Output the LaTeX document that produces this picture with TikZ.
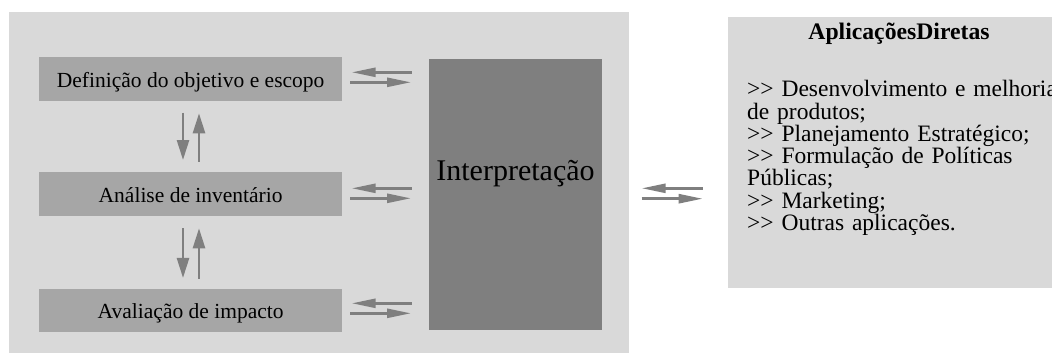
\documentclass[tikz,border=0pt]{standalone}
\usepackage{fontspec}
\setmainfont{Liberation Serif}
\usetikzlibrary{arrows.meta}
\definecolor{bgc}{HTML}{D9D9D9}
\definecolor{boxc}{HTML}{A6A6A6}
\definecolor{intc}{HTML}{7F7F7F}
\definecolor{arrc}{HTML}{7F7F7F}
\newcommand\gtgt{>\kern0pt>}
\begin{document}
\begin{tikzpicture}[x=1pt,y=-1pt,
  panel/.style={fill=bgc, draw=none, inner sep=0pt, outer sep=0pt},
  stage/.style={fill=boxc, draw=none, inner sep=0pt, outer sep=0pt,
    minimum width=302.7pt, minimum height=43.7pt,
    text height=16pt, text depth=0pt,
    font=\fontsize{21.5}{24}\selectfont},
  interbox/.style={fill=intc, draw=none, inner sep=0pt, outer sep=0pt},
  harrow/.style={draw=arrc, line width=2.6pt, -{Triangle[length=24pt,width=9pt]}},
  varrow/.style={draw=arrc, line width=2.6pt, -{Triangle[length=20pt,width=12pt]}}]
\useasboundingbox (0,0) rectangle (1052,354);
\clip (0,0) rectangle (1052,354);
\fill[white] (0,0) rectangle (1052,354);
% panels
\node[panel, minimum width=620pt, minimum height=341pt] (lca) at (319,182.5) {};
\node[panel, minimum width=342pt, minimum height=271pt] (apps) at (899,152.5) {};
% stages
\node[stage] (def) at (190.65,79.15) {Definição do objetivo e escopo};
\node[stage] (ana) at (190.65,194.15) {Análise de inventário};
\node[stage] (ava) at (190.65,310.5) {Avaliação de impacto};
\node[interbox, minimum width=172.4pt, minimum height=271.3pt] (interp) at (515.5,194.35) {};
\node[anchor=base, inner sep=0pt, font=\fontsize{30}{34}\selectfont] (itxt) at (515.5,180) {Interpretação};
% applications text
\node[anchor=base, inner sep=0pt, font=\fontsize{23.7}{26}\selectfont\bfseries] (atitle) at (899,39.3) {AplicaçõesDiretas};
\node[anchor=base west, inner sep=0pt, text width=400pt, align=left,
  font=\fontsize{23.5}{22.3}\selectfont] (alist) at (747,96.7)
  {\gtgt{} Desenvolvimento e melhoria\\
   de produtos;\\
   \gtgt{} Planejamento Estratégico;\\
   \gtgt{} Formulação de Políticas\\
   Públicas;\\
   \gtgt{} Marketing;\\
   \gtgt{} Outras aplicações.};
% helper coordinates
\path (def.east -| interp.west) coordinate (di);
\path (ana.east -| interp.west) coordinate (ai);
\path (ava.east -| interp.west) coordinate (vi);
\path (lca.east -| apps.west) coordinate (ra);
% horizontal pairs
\draw[harrow, shorten <=17.6pt, shorten >=9.7pt] ([yshift=6.85pt]di) -- ([yshift=6.85pt]def.east);
\draw[harrow, shorten <=8pt, shorten >=18.3pt] ([yshift=-3.15pt]def.east) -- ([yshift=-3.15pt]di);
\draw[harrow, shorten <=17.6pt, shorten >=9.7pt] ([yshift=5.85pt]ai) -- ([yshift=5.85pt]ana.east);
\draw[harrow, shorten <=8pt, shorten >=18.3pt] ([yshift=-4.15pt]ana.east) -- ([yshift=-4.15pt]ai);
\draw[harrow, shorten <=17.6pt, shorten >=9.7pt] ([yshift=7.2pt]vi) -- ([yshift=7.2pt]ava.east);
\draw[harrow, shorten <=8pt, shorten >=18.3pt] ([yshift=-2.8pt]ava.east) -- ([yshift=-2.8pt]vi);
% vertical pairs
\draw[varrow, shorten <=11.7pt, shorten >=12.3pt] ([xshift=-7.65pt]def.south) -- ([xshift=-7.65pt]ana.north);
\draw[varrow, shorten <=10.6pt, shorten >=12.3pt] ([xshift=8.35pt]ana.north) -- ([xshift=8.35pt]def.south);
\draw[varrow, shorten <=12pt, shorten >=10.7pt] ([xshift=-7.65pt]ana.south) -- ([xshift=-7.65pt]ava.north);
\draw[varrow, shorten <=9.7pt, shorten >=12.3pt] ([xshift=8.35pt]ava.north) -- ([xshift=8.35pt]ana.south);
% right pair
\draw[harrow, shorten <=25.3pt, shorten >=12.7pt] ([yshift=-5.8pt]ra) -- ([yshift=-5.8pt]lca.east);
\draw[harrow, shorten <=12.7pt, shorten >=25.3pt] ([yshift=-16.2pt]lca.east) -- ([yshift=-16.2pt]ra);
\end{tikzpicture}
\end{document}
